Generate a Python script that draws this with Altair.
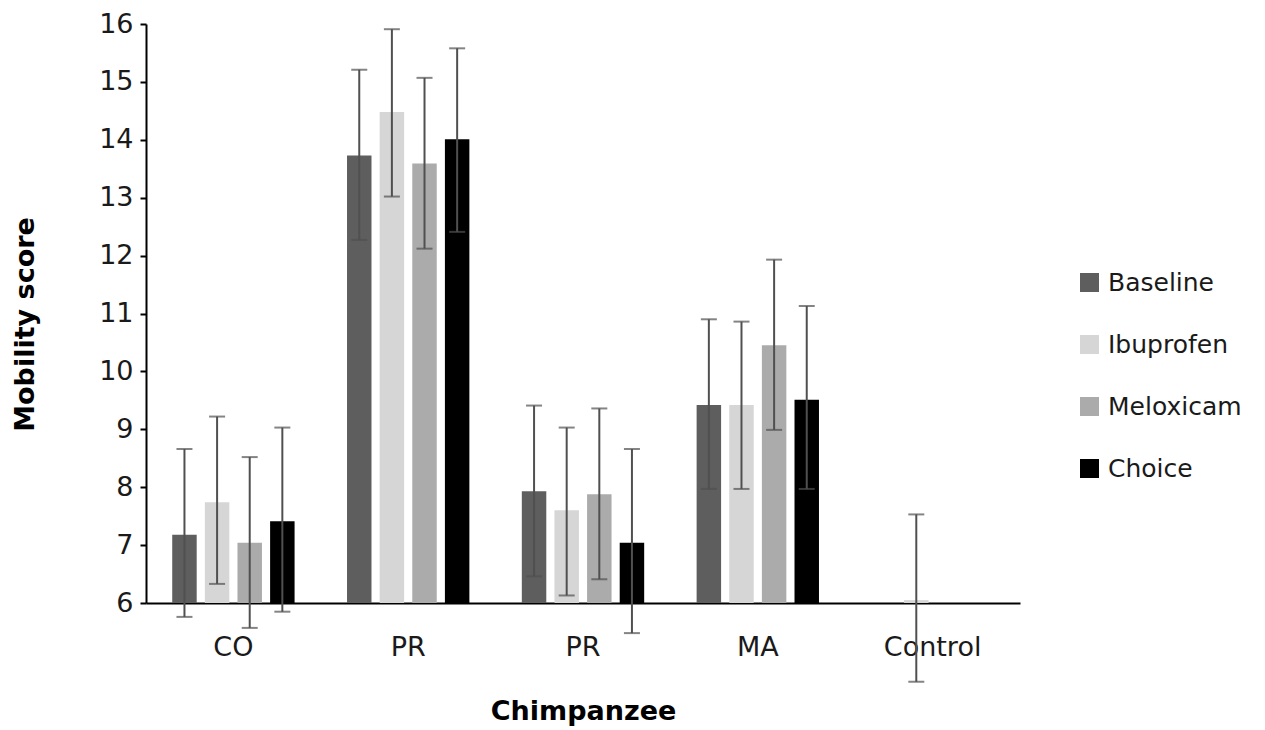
import altair as alt
import pandas as pd

group_keys = ["CO", "PR_1", "PR_2", "MA", "Control"]
group_labels = ["CO", "PR", "PR", "MA", "Control"]
series = ["Baseline", "Ibuprofen", "Meloxicam", "Choice"]
colors = ["#5e5e5e", "#d6d6d6", "#ababab", "#000000"]

baseline = [7.18, 13.73, 7.93, 9.42, None]
ibuprofen = [7.74, 14.48, 7.60, 9.42, 6.05]
meloxicam = [7.04, 13.59, 7.88, 10.45, None]
choice = [7.41, 14.01, 7.04, 9.51, None]

baseline_hi = [8.66, 15.21, 9.41, 10.90, None]
baseline_lo = [5.76, 12.27, 6.46, 7.97, None]
ibuprofen_hi = [9.22, 15.91, 9.03, 10.86, 7.53]
ibuprofen_lo = [6.33, 13.02, 6.13, 7.97, 4.64]
meloxicam_hi = [8.52, 15.07, 9.36, 11.93, None]
meloxicam_lo = [5.57, 12.12, 6.41, 8.99, None]
choice_hi = [9.03, 15.58, 8.66, 11.13, None]
choice_lo = [5.85, 12.41, 5.48, 7.97, None]

y_ticks = [6, 7, 8, 9, 10, 11, 12, 13, 14, 15, 16]

vals = {"Baseline": (baseline, baseline_hi, baseline_lo),
        "Ibuprofen": (ibuprofen, ibuprofen_hi, ibuprofen_lo),
        "Meloxicam": (meloxicam, meloxicam_hi, meloxicam_lo),
        "Choice": (choice, choice_hi, choice_lo)}

rows = []
for s in series:
    v, hi, lo = vals[s]
    for i, g in enumerate(group_keys):
        if v[i] is None:
            continue
        rows.append({"group": g, "series": s, "value": v[i], "hi": hi[i], "lo": lo[i]})
df = pd.DataFrame(rows)

label_expr = " : ".join(
    [f"datum.value == '{k}' ? '{l}'" for k, l in zip(group_keys, group_labels)]
) + " : datum.value"

FONT = "DejaVu Sans"

x_enc = alt.X("group:N", sort=group_keys,
              scale=alt.Scale(domain=group_keys, paddingInner=0.3, paddingOuter=0.15),
              axis=alt.Axis(title="Chimpanzee", labelExpr=label_expr, labelAngle=0,
                            ticks=False, tickSize=0, labelPadding=31,
                            labelFontSize=27, labelFont=FONT, labelColor="#1a1a1a",
                            titleFontSize=27, titleFont=FONT, titleFontWeight="bold",
                            titleColor="#000000", titleY=95, titleX=437,
                            titleBaseline="top",
                            domainColor="#000000", domainWidth=2))
xoff = alt.XOffset("series:N", sort=series,
                   scale=alt.Scale(domain=series, paddingInner=0.25, paddingOuter=0))
y_scale = alt.Scale(domain=[6, 16], nice=False, zero=False)

bars = alt.Chart(df).mark_bar().encode(
    x=x_enc,
    xOffset=xoff,
    y=alt.Y("value:Q", scale=y_scale,
            axis=alt.Axis(title="Mobility score", values=y_ticks, grid=False, format="d",
                          tickSize=6, tickWidth=2, tickColor="#000000",
                          labelPadding=7, labelFontSize=27, labelFont=FONT,
                          labelColor="#1a1a1a",
                          titleFontSize=27, titleFont=FONT, titleFontWeight="bold",
                          titleColor="#000000", titleX=-107, titleY=300,
                          domainColor="#000000", domainWidth=2)),
    y2=alt.datum(6),
    color=alt.Color("series:N", sort=series,
                    scale=alt.Scale(domain=series, range=colors),
                    legend=alt.Legend(title=None, orient="none", legendX=931, legendY=246,
                                      symbolType="square", symbolSize=361,
                                      symbolStrokeWidth=0, labelFontSize=25,
                                      labelFont=FONT, labelColor="#1a1a1a",
                                      labelOffset=6, rowPadding=36, padding=0)),
)

rules = alt.Chart(df).mark_rule(color="#505050", strokeWidth=2).encode(
    x=alt.X("group:N", sort=group_keys),
    xOffset=alt.XOffset("series:N", sort=series),
    y=alt.Y("lo:Q", scale=y_scale),
    y2="hi:Q",
)

caps_hi = alt.Chart(df).mark_tick(color="#505050", thickness=2, size=16).encode(
    x=alt.X("group:N", sort=group_keys),
    xOffset=alt.XOffset("series:N", sort=series),
    y=alt.Y("hi:Q", scale=y_scale),
)
caps_lo = alt.Chart(df).mark_tick(color="#505050", thickness=2, size=16).encode(
    x=alt.X("group:N", sort=group_keys),
    xOffset=alt.XOffset("series:N", sort=series),
    y=alt.Y("lo:Q", scale=y_scale),
)

chart = alt.layer(bars, rules, caps_hi, caps_lo).properties(
    width=874, height=579,
    autosize=alt.AutoSizeParams(type="none"),
    padding={"left": 138, "top": 16, "right": 235, "bottom": 125},
    background="white",
).configure_view(stroke=None)

chart.save("out.html", embed_options={"renderer": "svg", "actions": False})
